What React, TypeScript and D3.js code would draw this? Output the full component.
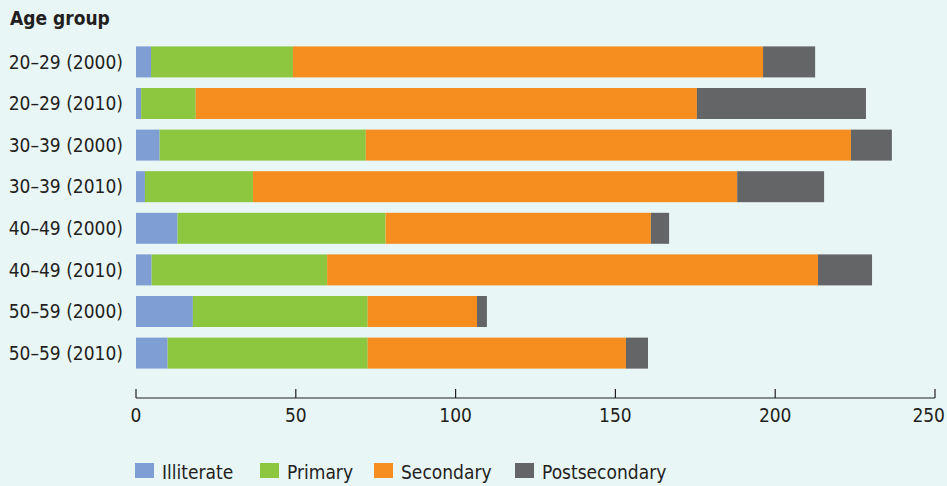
import React, { useEffect } from 'react';
import * as d3 from 'd3';

const categories = [
  '20–29 (2000)',
  '20–29 (2010)',
  '30–39 (2000)',
  '30–39 (2010)',
  '40–49 (2000)',
  '40–49 (2010)',
  '50–59 (2000)',
  '50–59 (2010)',
];
const seriesNames = ['Illiterate', 'Primary', 'Secondary', 'Postsecondary'];
const illiterate = [4.7, 1.6, 7.4, 2.8, 13.0, 4.9, 17.8, 9.9];
const primary = [44.4, 17.1, 64.5, 33.8, 65.1, 54.9, 54.7, 62.6];
const secondary = [147.1, 156.8, 151.8, 151.5, 83.0, 153.6, 34.2, 80.8];
const postsecondary = [16.3, 52.9, 12.8, 27.2, 5.7, 16.9, 3.1, 6.9];
const xTicks = [0, 50, 100, 150, 200, 250];

const colors = ['#7f9fd4', '#8dc63f', '#f68e1f', '#646567'];

const W = 947;
const H = 486;
const FONT = '"Liberation Sans Narrow", "DejaVu Sans Condensed", "Roboto", sans-serif';

export default function App() {
  useEffect(() => {
    document.body.style.margin = '0';
  }, []);

  const rows = categories.map((c, i) => ({
    cat: c,
    Illiterate: illiterate[i],
    Primary: primary[i],
    Secondary: secondary[i],
    Postsecondary: postsecondary[i],
  }));
  const stacked = d3.stack<any>().keys(seriesNames)(rows);

  const x = d3.scaleLinear().domain([0, 250]).range([136, 935]);
  const y = d3.scaleBand().domain(categories).range([41, 374]).paddingInner(0.255).paddingOuter(0.13);
  const axisY = 398;

  const legendX = [135, 260, 374, 515];

  return (
    <svg width={W} height={H} style={{ display: 'block' }} fontFamily={FONT}>
      <rect width={W} height={H} fill="#e9f6f6" />
      <text x={10} y={25} fontSize={19} fontWeight="bold" fill="#231f20">Age group</text>

      {stacked.map((s, si) => (
        <g key={s.key} fill={colors[si]}>
          {s.map((d: any, i: number) => (
            <rect
              key={i}
              x={x(d[0])}
              y={y(categories[i])}
              width={x(d[1]) - x(d[0])}
              height={y.bandwidth()}
            />
          ))}
        </g>
      ))}

      {categories.map((c) => (
        <text
          key={c}
          x={123}
          y={(y(c) as number) + y.bandwidth() / 2}
          dy="0.35em"
          textAnchor="end"
          fontSize={19}
          fill="#231f20"
        >
          {c}
        </text>
      ))}

      <line x1={x(0)} x2={x(250)} y1={axisY} y2={axisY} stroke="#231f20" strokeWidth={1.2} />
      {xTicks.map((t, i) => {
        const last = i === xTicks.length - 1;
        return (
          <g key={t}>
            <line x1={x(t)} x2={x(t)} y1={axisY - 9} y2={axisY} stroke="#231f20" strokeWidth={1.2} />
            <text
              x={last ? W - 2 : x(t)}
              y={422}
              textAnchor={last ? 'end' : 'middle'}
              fontSize={19}
              fill="#231f20"
            >
              {t}
            </text>
          </g>
        );
      })}

      {seriesNames.map((n, i) => (
        <g key={n}>
          <rect x={legendX[i]} y={463} width={19} height={15} fill={colors[i]} />
          <text x={legendX[i] + 27} y={479} fontSize={19} fill="#231f20">{n}</text>
        </g>
      ))}
    </svg>
  );
}
